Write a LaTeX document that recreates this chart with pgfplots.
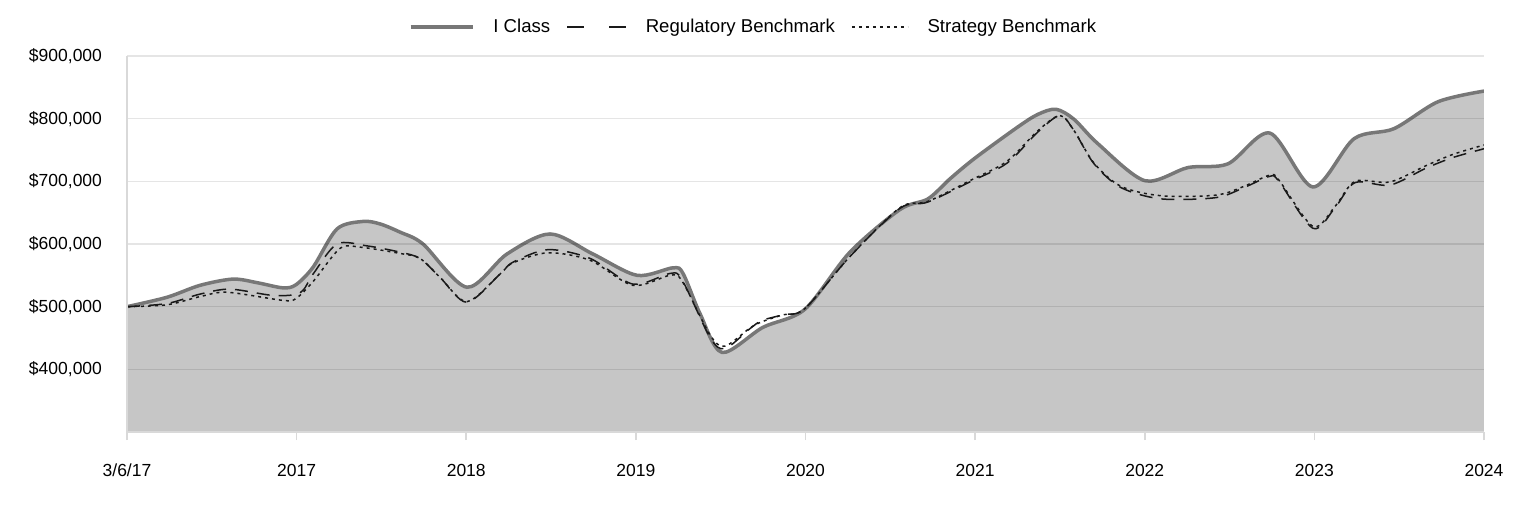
\documentclass[border=0pt]{standalone}
\usepackage{pgfplots}
\pgfplotsset{compat=1.18}
\usepackage{fontspec}
\setmainfont{Liberation Sans}
\definecolor{iclass}{HTML}{777777}
\definecolor{areafill}{HTML}{C6C6C6}
\definecolor{bench}{HTML}{1A1A1A}
\definecolor{axisgray}{HTML}{D9D9D9}

\pgfplotstableread{
x y
0.000 500000
0.236 515000
0.430 534000
0.625 544000
0.772 538000
0.920 530000
0.996 535000
1.097 563000
1.238 624000
1.391 636000
1.492 632000
1.609 619000
1.745 600000
2.004 531000
2.240 584000
2.494 616000
2.747 584000
3.007 550000
3.219 562000
3.278 553000
3.378 489000
3.508 427000
3.749 467000
3.997 496000
4.262 587000
4.557 655000
4.722 672000
4.852 704000
4.999 737000
5.253 787000
5.371 807000
5.477 815000
5.583 799000
5.724 760000
6.001 701000
6.255 722000
6.491 728000
6.738 777000
6.992 691000
7.234 768000
7.469 784000
7.729 827000
8.000 844000
}\iclassdata

\pgfplotstableread{
x y
0.000 500000
0.236 505000
0.430 520000
0.607 528000
0.861 518000
1.020 522000
1.097 552000
1.238 600000
1.415 597000
1.609 587000
1.727 577000
1.845 547000
2.004 507000
2.199 552000
2.276 571000
2.482 591000
2.730 577000
2.983 536000
3.201 553000
3.272 543000
3.437 451000
3.525 433000
3.673 465000
3.744 478000
3.867 487000
3.997 497000
4.262 580000
4.557 657000
4.722 667000
4.976 700000
5.188 729000
5.371 779000
5.500 805000
5.583 781000
5.701 728000
5.860 690000
6.096 672000
6.420 674000
6.585 690000
6.738 708000
6.791 700000
6.992 625000
7.122 658000
7.240 698000
7.446 694000
7.658 721000
7.817 738000
8.000 752000
}\regdata

\pgfplotstableread{
x y
0.000 500000
0.236 503000
0.430 516000
0.590 523000
0.920 510000
0.996 513000
1.097 540000
1.256 593000
1.374 595000
1.609 585000
1.727 577000
1.845 547000
2.004 508000
2.199 552000
2.276 570000
2.482 586000
2.730 574000
2.983 534000
3.201 550000
3.272 541000
3.437 455000
3.525 437000
3.673 466000
3.744 476000
3.867 487000
3.997 497000
4.262 580000
4.557 658000
4.722 668000
4.976 702000
5.188 732000
5.371 781000
5.500 805000
5.583 781000
5.701 729000
5.860 692000
6.096 677000
6.420 678000
6.585 692000
6.738 710000
6.791 702000
6.992 628000
7.122 660000
7.240 700000
7.446 699000
7.658 725000
7.817 743000
8.000 758000
}\stratdata

\begin{document}
\fontsize{17.5bp}{21bp}\selectfont
\begin{tikzpicture}
\useasboundingbox (0,0) rectangle (1524bp,516bp);
\begin{axis}[
  at={(127bp,84bp)}, anchor=south west,
  scale only axis, width=1357bp, height=376bp,
  xmin=0, xmax=8, ymin=300000, ymax=900000,
  xtick={0,1,2,3,4,5,6,7,8},
  xticklabels={3/6/17,2017,2018,2019,2020,2021,2022,2023,2024},
  ytick={400000,500000,600000,700000,800000,900000},
  yticklabels={{\$400,000},{\$500,000},{\$600,000},{\$700,000},{\$800,000},{\$900,000}},
  scaled y ticks=false,
  axis x line*=bottom, axis y line*=left,
  axis line style={-, draw=axisgray, line width=1.6bp},
  axis on top,
  ymajorgrids,
  major grid style={draw=black, draw opacity=0.1, line width=1.6bp},
  tick align=outside,
  xtick style={draw=axisgray, line width=1.6bp},
  major tick length=8bp,
  ytick style={draw=none},
  tick label style={font=\fontsize{17.5bp}{21bp}\selectfont, text=black},
  yticklabel style={xshift=-11bp},
  xticklabel style={yshift=-18bp},
  legend style={at={(axis description cs:0.5,1)}, anchor=center, yshift=29bp, xshift=-52bp,
    draw=none, fill=none, font=\fontsize{18.6bp}{22bp}\selectfont,
    /tikz/every even column/.append style={column sep=14bp},
    /tikz/every odd column/.append style={column sep=17bp}},
  legend columns=3,
  legend cell align=left,
]
\addplot[draw=none, fill=areafill, smooth, forget plot] table {\iclassdata} \closedcycle;
\addplot[iclass, line width=3.5bp, smooth,
  legend image code/.code={\draw[iclass, line width=3.5bp] (0bp,0bp) -- (62bp,0bp);}] table {\iclassdata};
\addlegendentry{I Class}
\addplot[bench, line width=1.5bp, smooth, dash pattern=on 13bp off 9bp,
  legend image code/.code={\draw[bench, line width=1.6bp, dash pattern=on 17bp off 25bp] (0bp,0bp) -- (59bp,0bp);}] table {\regdata};
\addlegendentry{Regulatory Benchmark}
\addplot[bench, line width=1.5bp, smooth, dash pattern=on 3bp off 4bp,
  legend image code/.code={\draw[bench, line width=1.6bp, dash pattern=on 3bp off 4bp] (0bp,0bp) -- (56bp,0bp);}] table {\stratdata};
\addlegendentry{Strategy Benchmark}
\end{axis}
\end{tikzpicture}
\end{document}
